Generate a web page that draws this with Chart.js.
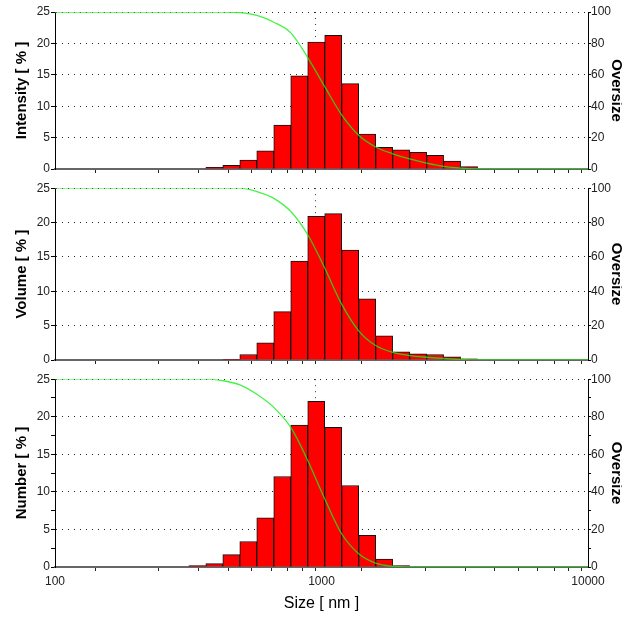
<!DOCTYPE html>
<html>
<head>
<meta charset="utf-8">
<script src="https://cdn.jsdelivr.net/npm/chart.js@4.4.0/dist/chart.umd.min.js"></script>
<style>
  html, body { margin: 0; padding: 0; background: #fff; }
  #wrap { position: relative; width: 622px; height: 617px; }
  canvas { position: absolute; left: 0; }
</style>
</head>
<body>
<div id="wrap">
  <canvas id="intensity" width="622" height="180" style="top:0px"></canvas>
  <canvas id="volume" width="622" height="191" style="top:180px"></canvas>
  <canvas id="number" width="622" height="246" style="top:371px"></canvas>
</div>
<script>
// size classes (nm), one bar per class
var sizes = [342.0, 396.1, 458.7, 531.2, 615.1, 712.4, 825.0, 955.4, 1106, 1281, 1484, 1718, 1990, 2305, 2669, 3091, 3580, 4145];
var intensity = [0, 0.25, 0.58, 1.43, 2.9, 7.0, 14.85, 20.2, 21.3, 13.6, 5.55, 3.45, 3.07, 2.67, 2.18, 1.27, 0.38, 0];
var volume = [0, 0, 0.1, 0.8, 2.5, 7.05, 14.4, 20.9, 21.3, 16.0, 8.9, 3.5, 1.2, 0.9, 0.8, 0.46, 0.17, 0];
var number = [0.18, 0.45, 1.64, 3.4, 6.55, 12.05, 18.9, 22.05, 18.6, 10.85, 4.2, 1.06, 0.18, 0, 0, 0, 0, 0];

// oversize curves (%), read at the class borders
var ovSizes = [100, 368, 426, 494, 572, 662, 767, 888, 1028, 1190, 1379, 1597, 1849, 2142, 2480, 2873, 3327, 3852, 4461, 10000];
var ovIntensity = [100, 100, 100, 99.6, 97.8, 93.5, 86.7, 71, 52.5, 34.5, 21.5, 14, 9.7, 6.4, 3.8, 1.7, 0.6, 0.1, 0, 0];
var ovVolume = [100, 100, 100, 100, 98, 94.1, 86.4, 72.9, 53.6, 32.5, 17, 8.4, 4.5, 2.6, 1.6, 0.9, 0.3, 0, 0, 0];
var ovNumber = [100, 100, 99.2, 97, 92, 85, 74.3, 56.7, 36.3, 17.7, 7.1, 2.1, 0.4, 0, 0, 0, 0, 0, 0, 0];

var xTicks = [100, 200, 300, 400, 500, 600, 700, 800, 900, 1000, 2000, 3000, 4000, 5000, 6000, 7000, 8000, 9000, 10000];
var xLabels = [100, 1000, 10000];

var fam = 'Arial, "Liberation Sans", sans-serif';
var tickFont = { family: fam, size: 12 };
var titleFont = { family: fam, size: 15, weight: 'bold' };
var dotted = [1, 5];
var clear = 'rgba(0,0,0,0)';

function panel(id, yTitle, values, oversize, padTop, bottomAxis) {
  var ctx = document.getElementById(id).getContext('2d');
  return new Chart(ctx, {
    type: 'bar',
    data: {
      datasets: [{
        type: 'line',
        data: ovSizes.map(function (s, i) { return { x: s, y: oversize[i] }; }),
        yAxisID: 'y1',
        borderColor: 'rgba(20, 240, 20, 0.8)',
        borderWidth: 1.3,
        pointRadius: 0,
        cubicInterpolationMode: 'monotone',
        order: 0
      }, {
        type: 'bar',
        data: sizes.map(function (s, i) { return { x: s, y: values[i] }; }),
        yAxisID: 'y',
        backgroundColor: '#ff0000',
        borderColor: '#111',
        borderWidth: 1,
        barThickness: 'flex',
        barPercentage: 1,
        categoryPercentage: 1,
        order: 1
      }]
    },
    options: {
      responsive: false,
      animation: false,
      layout: { padding: { top: padTop, left: 0, right: 0, bottom: 0 } },
      plugins: { legend: { display: false }, tooltip: { enabled: false } },
      scales: {
        x: {
          type: 'logarithmic',
          min: 100,
          max: 10000,
          afterBuildTicks: function (scale) {
            scale.ticks = xTicks.map(function (v) { return { value: v }; });
          },
          afterFit: function (scale) { scale.height = bottomAxis ? 50 : 11; },
          grid: {
            color: function (c) { return c.tick && c.tick.value === 1000 ? '#333' : clear; },
            tickColor: '#222',
            tickLength: 4
          },
          border: { color: '#666', width: 2, dash: dotted },
          ticks: {
            display: bottomAxis,
            autoSkip: false,
            maxRotation: 0,
            padding: 3,
            color: '#222',
            font: tickFont,
            callback: function (v) { return xLabels.indexOf(v) >= 0 ? String(v) : ''; }
          },
          title: {
            display: bottomAxis,
            text: 'Size [ nm ]',
            color: '#000',
            font: { family: fam, size: 16 },
            padding: { top: 2, bottom: 4 }
          }
        },
        y: {
          position: 'left',
          min: 0,
          max: 25,
          afterFit: function (scale) { scale.width = 55; },
          grid: {
            color: function (c) { return c.tick && c.tick.value > 0 && c.tick.value % 5 === 0 ? '#222' : clear; },
            tickColor: '#000',
            tickLength: 4
          },
          border: { color: '#000', width: 1, dash: dotted },
          ticks: {
            stepSize: 2.5,
            padding: 1,
            color: '#222',
            font: tickFont,
            callback: function (v) { return v % 5 === 0 ? v : ''; }
          },
          title: {
            display: true,
            text: yTitle,
            color: '#000',
            font: titleFont,
            padding: { top: 13, bottom: 0 }
          }
        },
        y1: {
          position: 'right',
          min: 0,
          max: 100,
          afterFit: function (scale) { scale.width = 34; },
          grid: { drawOnChartArea: false, tickColor: '#000', tickLength: 3 },
          border: { color: '#000', width: 1 },
          ticks: {
            stepSize: 10,
            padding: 0,
            color: '#222',
            font: tickFont,
            callback: function (v) { return v % 20 === 0 ? v : ''; }
          },
          title: {
            display: true,
            text: 'Oversize',
            color: '#000',
            font: titleFont,
            padding: { top: -3, bottom: 0 }
          }
        }
      }
    }
  });
}

panel('intensity', 'Intensity [ % ]', intensity, ovIntensity, 12, false);
panel('volume', 'Volume [ % ]', volume, ovVolume, 7, false);
panel('number', 'Number [ % ]', number, ovNumber, 7, true);
</script>
</body>
</html>
